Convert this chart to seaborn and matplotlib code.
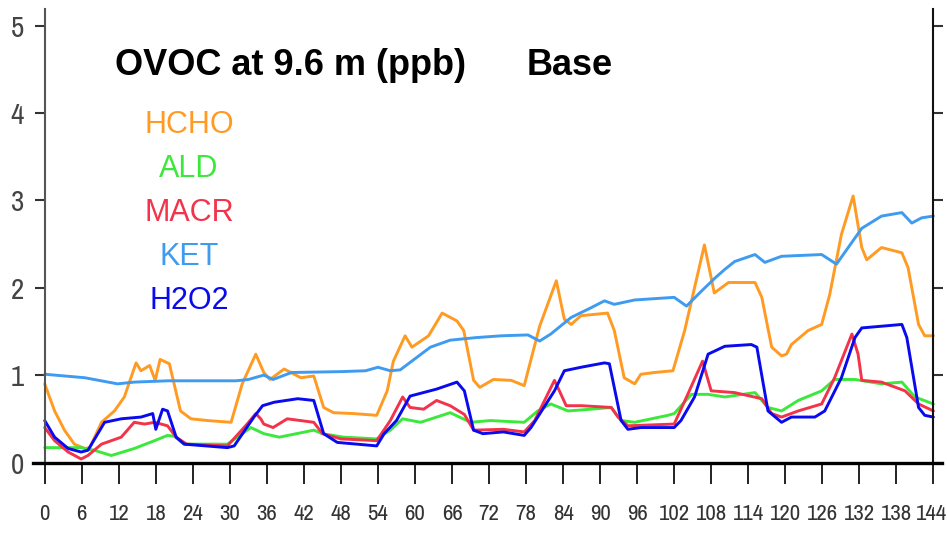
import matplotlib
matplotlib.use("Agg")
import matplotlib.pyplot as plt
from matplotlib import font_manager
import matplotlib.transforms as mtransforms
import seaborn as sns
import pandas as pd

# ---------------- data (hours, ppb) ----------------
hcho_h = [0, 1.6, 3.2, 4.8, 6.5, 7.3, 9.2, 11.3, 12.9, 14.8, 15.6, 17, 17.9, 18.7, 20.2, 22, 23.7,
          26.4, 30.2, 32, 34.2, 35.5, 36.5, 38.8, 41.5, 43.6, 45.2, 46.8, 50, 53.8, 55.5, 56.5,
          58.4, 59.5, 62.2, 64.4, 66.8, 67.9, 69.5, 70.5, 72.7, 75.6, 77.7, 80.2, 82.9, 84.2,
          85.3, 86.9, 91.2, 92.3, 93.9, 95.6, 96.6, 98.8, 101.8, 103.7, 105.3, 106.9, 108.5,
          110.8, 115.1, 116.2, 117.8, 119.4, 120.2, 121, 123.7, 125.9, 127.2, 129.1, 131,
          132.4, 133.2, 135.6, 138.9, 139.9, 141.6, 142.6, 144]
hcho_v = [0.90, 0.59, 0.37, 0.21, 0.16, 0.17, 0.46, 0.59, 0.75, 1.14, 1.05, 1.11, 0.94, 1.18, 1.13,
          0.59, 0.50, 0.48, 0.46, 0.90, 1.24, 1.03, 0.95, 1.07, 0.97, 0.99, 0.63, 0.57, 0.56,
          0.54, 0.82, 1.16, 1.45, 1.32, 1.45, 1.71, 1.62, 1.51, 0.94, 0.86, 0.95, 0.94, 0.88,
          1.56, 2.08, 1.64, 1.58, 1.68, 1.71, 1.51, 0.97, 0.90, 1.01, 1.03, 1.05, 1.51, 2.00,
          2.49, 1.94, 2.06, 2.06, 1.89, 1.32, 1.22, 1.24, 1.35, 1.51, 1.58, 1.92, 2.61, 3.05,
          2.46, 2.32, 2.46, 2.40, 2.23, 1.58, 1.45, 1.45]

ald_h = [0, 5.9, 8, 10.8, 14.5, 17.8, 19.9, 21, 22.6, 29.6, 31.2, 33.4, 35.5, 38, 43.6, 45, 48.4,
         53.8, 56, 58, 60.9, 65.7, 69, 72.2, 77.7, 79.9, 82, 84.8, 88.5, 91.8, 93.4, 95.6, 101,
         102, 104.8, 107.5, 110.2, 115.1, 117.2, 119.4, 122.1, 125.9, 128, 131.3, 135.6, 138.9,
         141, 144]
ald_v = [0.17, 0.17, 0.14, 0.08, 0.16, 0.25, 0.31, 0.30, 0.21, 0.21, 0.29, 0.40, 0.33, 0.29, 0.37,
         0.33, 0.29, 0.27, 0.37, 0.50, 0.46, 0.57, 0.46, 0.48, 0.46, 0.59, 0.67, 0.59, 0.61,
         0.63, 0.48, 0.46, 0.54, 0.56, 0.78, 0.78, 0.75, 0.80, 0.63, 0.59, 0.71, 0.82, 0.95,
         0.95, 0.90, 0.92, 0.75, 0.67]

macr_h = [0, 1.6, 3.8, 5.9, 7, 9.2, 12.4, 14.5, 16.2, 17.8, 19.9, 21.3, 23, 29.6, 32.8, 34.2, 35,
          35.5, 37, 39.3, 43.6, 45, 48, 53.8, 56, 58, 59.2, 61.4, 63.5, 65.7, 68, 69.5, 74.3,
          77.7, 79.4, 82.6, 83.4, 84.5, 87, 91.8, 92.9, 94.5, 102, 104.2, 106.6, 108, 111.8,
          116.2, 117.8, 119.4, 122.1, 125.9, 128, 130.8, 131.8, 132.4, 135.6, 139.4, 141.6, 144]
macr_v = [0.40, 0.25, 0.12, 0.04, 0.08, 0.21, 0.29, 0.46, 0.44, 0.46, 0.42, 0.29, 0.21, 0.19, 0.44,
          0.56, 0.50, 0.44, 0.40, 0.50, 0.46, 0.33, 0.27, 0.25, 0.48, 0.75, 0.63, 0.61, 0.71,
          0.65, 0.55, 0.37, 0.38, 0.35, 0.48, 0.94, 0.82, 0.65, 0.65, 0.63, 0.52, 0.42, 0.44,
          0.78, 1.16, 0.82, 0.80, 0.73, 0.56, 0.52, 0.59, 0.67, 0.97, 1.47, 1.24, 0.94, 0.92,
          0.82, 0.67, 0.59]

ket_h = [0, 6.5, 11.8, 14.5, 20, 31, 33, 35.5, 37, 40, 48, 52, 54, 56, 57.6, 62.5, 65.7, 70, 74,
         78.3, 80.2, 82, 85.3, 88.5, 90.7, 92.3, 95.6, 102, 104, 106.4, 108.6, 110.2, 111.8,
         115.1, 116.7, 119.4, 125.9, 128.3, 130.2, 132.4, 135.6, 138.9, 140.5, 142.1, 144]
ket_v = [1.01, 0.97, 0.90, 0.92, 0.935, 0.935, 0.95, 1.00, 0.95, 1.03, 1.04, 1.05, 1.09, 1.05,
         1.06, 1.32, 1.40, 1.43, 1.45, 1.46, 1.39, 1.47, 1.66, 1.77, 1.85, 1.81, 1.86, 1.89,
         1.79, 1.96, 2.11, 2.21, 2.30, 2.38, 2.29, 2.36, 2.38, 2.27, 2.46, 2.68, 2.82, 2.86,
         2.74, 2.80, 2.82]

h2o2_h = [0, 1.6, 3.8, 5.9, 7, 9.7, 12.4, 15.6, 17.5, 18, 19.1, 19.9, 21.3, 22.6, 29.6, 30.7, 33.9,
          35.3, 37.2, 41, 43.6, 45.2, 47.4, 53.8, 55, 57, 59.2, 63.5, 66.8, 68, 69.5, 71, 74.3,
          77.7, 78.8, 82.6, 84.2, 86.9, 90.7, 91.5, 93.4, 94.5, 96.6, 102, 103.1, 105.3, 107.5,
          110.2, 114.5, 115.4, 117.2, 119.4, 121, 124.8, 126.4, 129.1, 131.3, 132.4, 138.9,
          139.7, 141.6, 142.6, 144]
h2o2_v = [0.48, 0.29, 0.16, 0.12, 0.14, 0.46, 0.50, 0.52, 0.56, 0.38, 0.61, 0.59, 0.29, 0.21, 0.17,
          0.19, 0.52, 0.65, 0.69, 0.73, 0.71, 0.33, 0.23, 0.19, 0.33, 0.48, 0.76, 0.84, 0.92,
          0.82, 0.37, 0.33, 0.35, 0.31, 0.40, 0.82, 1.05, 1.09, 1.14, 1.13, 0.48, 0.38, 0.40,
          0.40, 0.48, 0.75, 1.24, 1.33, 1.35, 1.32, 0.59, 0.46, 0.52, 0.52, 0.59, 0.97, 1.43,
          1.54, 1.58, 1.43, 0.63, 0.54, 0.52]

series_names = ["HCHO", "ALD", "MACR", "KET", "H2O2"]
series_colors = ["#FF9A22", "#3BE83B", "#F2334A", "#3F9BF0", "#0A0AEE"]
x_ticks = list(range(0, 145, 6))
y_ticks = [0, 1, 2, 3, 4, 5]
title_left = "OVOC at 9.6 m (ppb)"
title_right = "Base"

# ---------------- fonts ----------------
sns.set_theme(style="white")
names = {f.name for f in font_manager.fontManager.ttflist}
narrow = [n for n in sorted(names) if ("Narrow" in n or "Condensed" in n)]
main_font = "Liberation Sans" if "Liberation Sans" in names else "DejaVu Sans"
tick_family = narrow[0] if narrow else main_font
plt.rcParams["font.family"] = [main_font, "DejaVu Sans"]

# ---------------- figure ----------------
fig = plt.figure(figsize=(9.47, 5.40), dpi=100)
ax = fig.add_axes([33 / 947, (540 - 462.5) / 540, 909 / 947, 453.5 / 540])

data = [(hcho_h, hcho_v), (ald_h, ald_v), (macr_h, macr_v), (ket_h, ket_v), (h2o2_h, h2o2_v)]
for (hx, hy), name, col in zip(data, series_names, series_colors):
    df = pd.DataFrame({"hour": hx, "ppb": hy})
    sns.lineplot(data=df, x="hour", y="ppb", color=col, lw=2.1, ax=ax,
                 estimator=None, sort=False, legend=False)

ax.set_xlim(-1.9, 145.4)
ax.set_ylim(0, 5.19)
ax.set_xlabel("")
ax.set_ylabel("")

ax.spines["top"].set_visible(False)
ax.spines["left"].set_position(("data", 0))
ax.spines["right"].set_position(("data", 144))
ax.spines["left"].set_color("#555555")
ax.spines["left"].set_linewidth(1.5)
ax.spines["right"].set_color("#111111")
ax.spines["right"].set_linewidth(1.5)
ax.spines["bottom"].set_color("#000000")
ax.spines["bottom"].set_linewidth(2.4)

ax.set_xticks(x_ticks)
ax.set_xticklabels([str(t) for t in x_ticks])
ax.set_yticks(y_ticks)
ax.set_yticklabels([str(t) for t in y_ticks])
ax.tick_params(axis="x", direction="out", length=15, width=1.3, color="#111111",
               pad=15, labelcolor="#333333", bottom=True)
ax.tick_params(axis="y", direction="out", length=7, width=1.5, color="#333333",
               pad=8, labelcolor="#444444", left=True, right=True,
               labelright=False)
for lab in ax.get_xticklabels():
    lab.set_fontproperties(font_manager.FontProperties(family=tick_family, size=16.5))
for lab in ax.get_yticklabels():
    lab.set_fontproperties(font_manager.FontProperties(family=tick_family, size=21))
last = ax.get_xticklabels()[-1]
last.set_transform(last.get_transform() +
                   mtransforms.ScaledTranslation(-2 / 100, 0, fig.dpi_scale_trans))
ax.grid(False)

# titles
fig.text(115 / 947, 1 - 75 / 540, title_left, fontsize=26, fontweight="bold",
         color="black", ha="left", va="baseline")
fig.text(527 / 947, 1 - 75 / 540, title_right, fontsize=26, fontweight="bold",
         color="black", ha="left", va="baseline")

# color-coded labels
for i, (name, col) in enumerate(zip(series_names, series_colors)):
    fig.text(189 / 947, 1 - (125 + 44 * i) / 540, name, fontsize=22, color=col,
             ha="center", va="center")

fig.savefig("out.png", dpi=100)
